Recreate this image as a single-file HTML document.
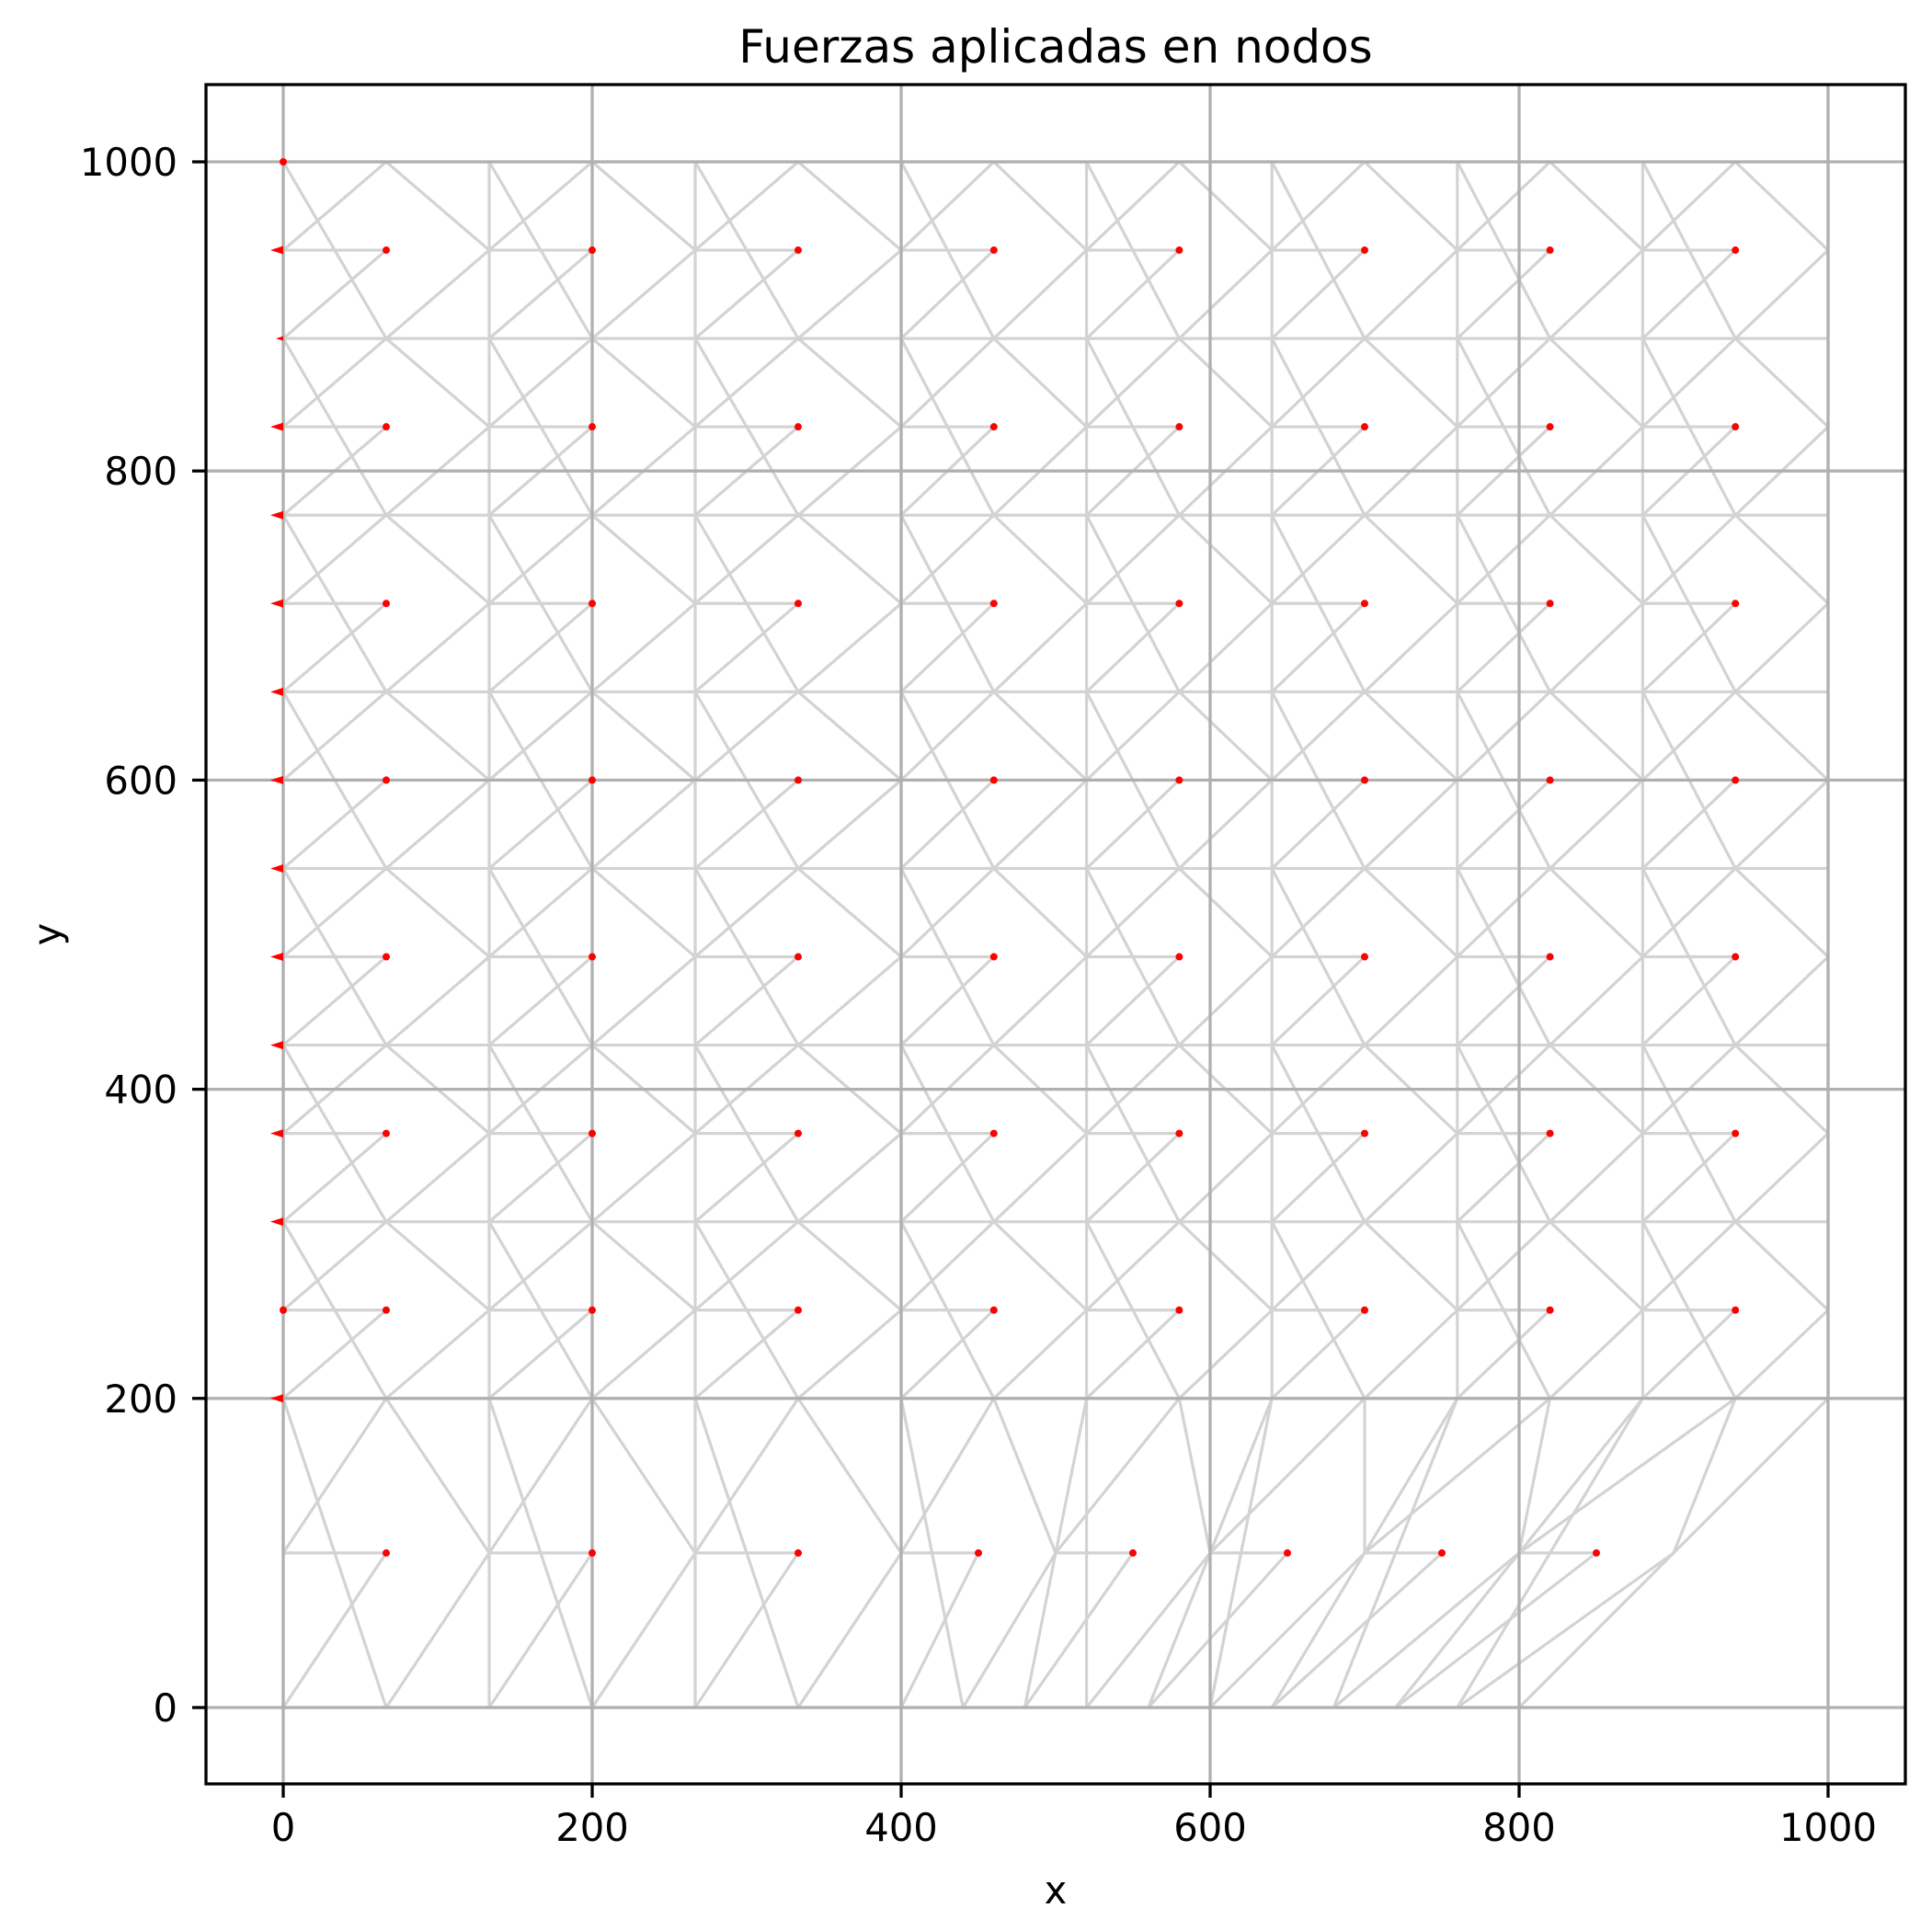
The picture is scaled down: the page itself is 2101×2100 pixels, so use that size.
<!DOCTYPE html>
<html><head><meta charset="utf-8"><style>
html,body{margin:0;padding:0;background:#fff;}
svg{display:block;font-family:"DejaVu Sans","Liberation Sans",sans-serif;}
</style></head><body>
<svg id="chart" width="2101" height="2100" viewBox="0 0 2101 2100" xmlns="http://www.w3.org/2000/svg">
<rect width="2101" height="2100" fill="#fff"/>
<text x="1148" y="68" font-size="50" text-anchor="middle" fill="#000">Fuerzas aplicadas en nodos</text>
<g id="mesh"></g>
<g id="grid"></g>
<g id="forces"></g>
<rect x="224" y="92" width="1848" height="1848" fill="none" stroke="#000" stroke-width="3.3"/>
<g id="ticks"></g>
<text x="1148" y="2070" font-size="41.7" text-anchor="middle">x</text>
<text x="0" y="0" font-size="41.7" text-anchor="middle" transform="translate(66,1016) rotate(-90)">y</text>
</svg>
<script>
const xTicks = [0, 200, 400, 600, 800, 1000];
const yTicks = [0, 200, 400, 600, 800, 1000];
const colXTop = [0,66.67,133.33,200,266.67,333.33,400,460,520,580,640,700,760,820,880,940,1000];
const colXMid = [0,66.67,133.33,200,266.67,333.33,400,450,500,550,600,650,700,750,800,850,900];
const colXBase = [0,66.67,133.33,200,266.67,333.33,400,440,480,520,560,600,640,680,720,760,800];
const rowY = [0,100,200,257.14,314.29,371.43,428.57,485.71,542.86,600,657.14,714.29,771.43,828.57,885.71,942.86,1000];
const dotCols = [1,3,5,7,9,11,13,15];
const dotRows = [1,3,5,7,9,11,13,15];
const arrowRows = [2,4,5,6,7,8,9,10,11,12,13,14,15];
const arrowLen = [14,14,14,14,14,14,14,14,14,14,14,8,14];
const edgeDotRows = [3,16];

const NS='http://www.w3.org/2000/svg';
function X(v){return 308+v*1.68;}
function Y(v){return 1857-v*1.681;}
function nx(c,r){return r===0?colXBase[c]:(r===1?colXMid[c]:colXTop[c]);}
function mk(tag,attrs,parent){const e=document.createElementNS(NS,tag);for(const k in attrs)e.setAttribute(k,attrs[k]);parent.appendChild(e);return e;}

const mesh=document.getElementById('mesh');
const nCols=colXTop.length, nRows=rowY.length;
function seg(c1,r1,c2,r2,name){
  const l=mk('line',{x1:X(nx(c1,r1)),y1:Y(rowY[r1]),x2:X(nx(c2,r2)),y2:Y(rowY[r2]),stroke:'#d3d3d3','stroke-width':3.2},mesh);
  
  
}
for(let rb=0; rb+2<nRows; rb+=2){
  const rm=rb+1, rt=rb+2;
  for(let c=0; c+2<nCols; c+=2){
    seg(c,rt,c+1,rb,'element-edge');
    seg(c+1,rt,c,rm,'element-edge');
    seg(c+1,rm,c,rb,'element-edge');
    seg(c,rm,c+1,rm,'element-edge');
    seg(c+1,rt,c+2,rm,'element-edge');
    seg(c+1,rb,c+2,rm,'element-edge');
    seg(c,rb,c,rm,'element-edge');
    seg(c,rm,c,rt,'element-edge');
  }
  seg(nCols-1,rb,nCols-1,rm,'element-edge');
  seg(nCols-1,rm,nCols-1,rt,'element-edge');
}
for(let r=0;r<nRows;r+=2){for(let c=0;c+1<nCols;c++){ if(r===0 && c>=16) continue; seg(c,r,c+1,r,'element-edge');}}

const grid=document.getElementById('grid');
xTicks.forEach(v=>{const l=mk('line',{x1:X(v),x2:X(v),y1:92,y2:1940,stroke:'#b0b0b0','stroke-width':3.3},grid);
  
  });
yTicks.forEach(v=>{const l=mk('line',{x1:224,x2:2072,y1:Y(v),y2:Y(v),stroke:'#b0b0b0','stroke-width':3.3},grid);
  
  });

const forces=document.getElementById('forces');
dotRows.forEach(r=>{dotCols.forEach(c=>{
  const d=mk('circle',{cx:X(nx(c,r)),cy:Y(rowY[r]),r:4,fill:'#ff0000'},forces);
  
  
});});
edgeDotRows.forEach(r=>{
  const d=mk('circle',{cx:X(0),cy:Y(rowY[r]),r:4,fill:'#ff0000'},forces);
  
  
});
arrowRows.forEach((r,i)=>{
  const x0=X(0), y0=Y(rowY[r]), L=arrowLen[i], h=L>10?4.5:2.5;
  const p=mk('polygon',{points:`${x0},${y0-h} ${x0-L},${y0} ${x0},${y0+h}`,fill:'#ff0000'},forces);
  
  
});

const ticks=document.getElementById('ticks');
xTicks.forEach(v=>{
  const t=mk('line',{x1:X(v),x2:X(v),y1:1940,y2:1955,stroke:'#000','stroke-width':3.3},ticks);
  
  
  const tx=mk('text',{x:X(v),y:2002,'font-size':41.7,'text-anchor':'middle'},ticks);
  tx.textContent=v;
  
  
});
yTicks.forEach(v=>{
  const t=mk('line',{x1:209,x2:224,y1:Y(v),y2:Y(v),stroke:'#000','stroke-width':3.3},ticks);
  
  
  const tx=mk('text',{x:193,y:Y(v)+15,'font-size':41.7,'text-anchor':'end'},ticks);
  tx.textContent=v;
  
  
});
</script>
</body></html>
